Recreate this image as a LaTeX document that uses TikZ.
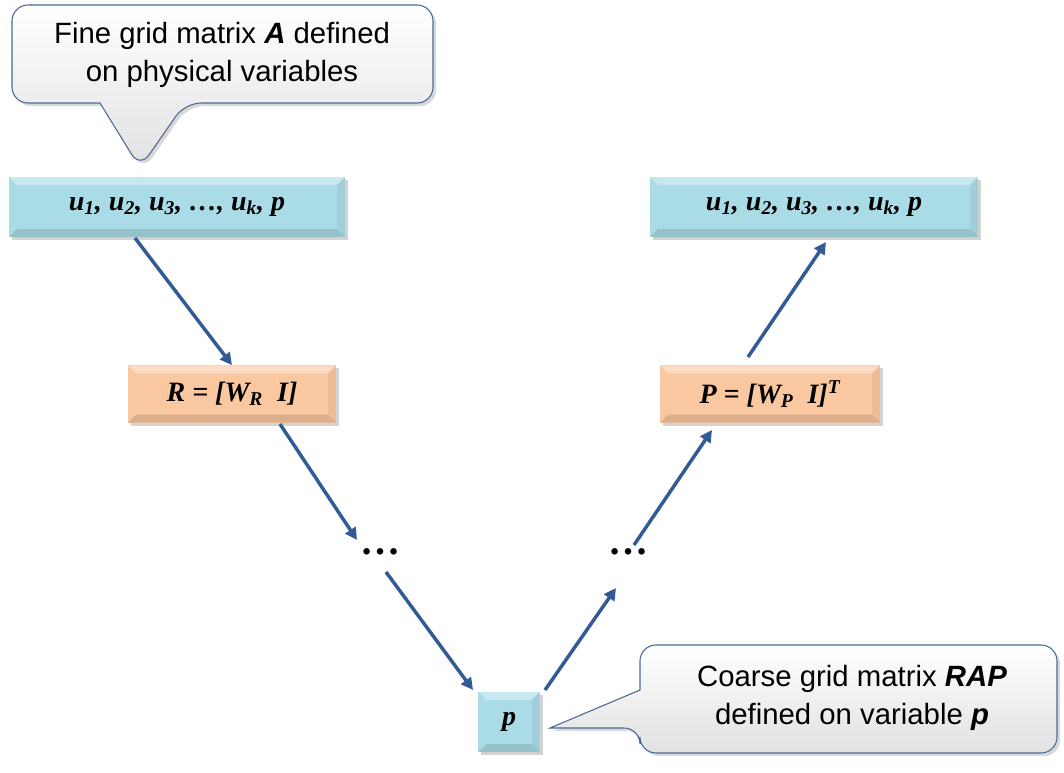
\documentclass[tikz,border=0pt]{standalone}
\usepackage{fontspec}
\setmainfont{Liberation Serif}
\newfontfamily\sansf{Liberation Sans}
\usetikzlibrary{positioning,shadows,arrows.meta}
\definecolor{boxblue}{RGB}{170,220,232}
\definecolor{boxorange}{RGB}{250,200,160}
\definecolor{arrowblue}{RGB}{50,90,150}
\definecolor{callgray}{RGB}{225,225,225}
\definecolor{calledge}{RGB}{75,105,150}
\tikzset{
  bevel/.style={draw=none, fill=#1, minimum height=45pt, inner xsep=6pt,
    font=\bfseries\itshape\fontsize{21}{24}\selectfont, drop shadow={opacity=0.35},
    path picture={
      \fill[white, opacity=0.35] (path picture bounding box.north west) -- (path picture bounding box.north east)
        -- ([xshift=-6pt,yshift=-6pt]path picture bounding box.north east) -- ([xshift=6pt,yshift=-6pt]path picture bounding box.north west) -- cycle;
      \fill[black, opacity=0.12] (path picture bounding box.south west) -- (path picture bounding box.south east)
        -- ([xshift=-6pt,yshift=6pt]path picture bounding box.south east) -- ([xshift=6pt,yshift=6pt]path picture bounding box.south west) -- cycle;
      \fill[black, opacity=0.06] (path picture bounding box.north east) -- (path picture bounding box.south east)
        -- ([xshift=-6pt,yshift=6pt]path picture bounding box.south east) -- ([xshift=-6pt,yshift=-6pt]path picture bounding box.north east) -- cycle;
    }},
  link/.style={draw=arrowblue, line width=2.6pt, -{Triangle[length=9pt,width=9pt]}},
  callout/.style={draw=calledge, line width=0.8pt, top color=white, bottom color=callgray, drop shadow={opacity=0.3}},
  calltext/.style={font=\sansf\fontsize{22}{29}\selectfont, align=center}
}
\begin{document}
\begin{tikzpicture}[x=0.75pt,y=0.75pt,yscale=-1]
\useasboundingbox (0,0) rectangle (1064,772);

% callouts
\draw[callout, rounded corners=12pt] (12,5) -- (433,5) -- (433,103) -- (185,103) -- (140,168) [sharp corners] -- (100,103) [rounded corners=12pt] -- (12,103) -- cycle;
\node[calltext] (fine) at (222,55) {Fine grid matrix \textbf{\textit{A}} defined\\on physical variables};
\draw[callout, rounded corners=12pt] (640,645) -- (1057,645) -- (1057,753) -- (640,753) -- (640,728) [sharp corners] -- (550,728) -- (640,690) [rounded corners=12pt] -- cycle;
\node[calltext] (coarse) at (852,698) {Coarse grid matrix \textbf{\textit{RAP}}\\defined on variable \textbf{\textit{p}}};

% boxes
\node[bevel=boxblue, minimum width=252pt] (fineL) at (177,207) {u\textsubscript{1}, u\textsubscript{2}, u\textsubscript{3}, \ldots, u\textsubscript{k}, p};
\node[bevel=boxblue, minimum width=246pt] (fineR) at (814,207) {u\textsubscript{1}, u\textsubscript{2}, u\textsubscript{3}, \ldots, u\textsubscript{k}, p};
\node[bevel=boxorange, minimum width=156pt, minimum height=43pt] (restr) at (232,394) {R = [W\textsubscript{R}\ \ I]};
\node[bevel=boxorange, minimum width=165pt, minimum height=43pt] (prolong) at (770,394) {P = [W\textsubscript{P}\ \ I]\textsuperscript{T}};
\node[bevel=boxblue, minimum width=46pt, minimum height=45pt, inner xsep=0pt] (coarseP) at (509,722) {p};
\node[font=\bfseries\fontsize{30}{30}\selectfont] (dotsL) at (380,552) {\ldots};
\node[font=\bfseries\fontsize{30}{30}\selectfont] (dotsR) at (628,552) {\ldots};

% connectors
\draw[link] (135,238) -- (restr.north);
\draw[link] (280,424) -- (357,540);
\draw[link] (386,572) -- (473,690);
\draw[link] (545,690) -- (616,588);
\draw[link] (634,545) -- (712,430);
\draw[link] (748,357) -- (826,242);
\end{tikzpicture}
\end{document}
